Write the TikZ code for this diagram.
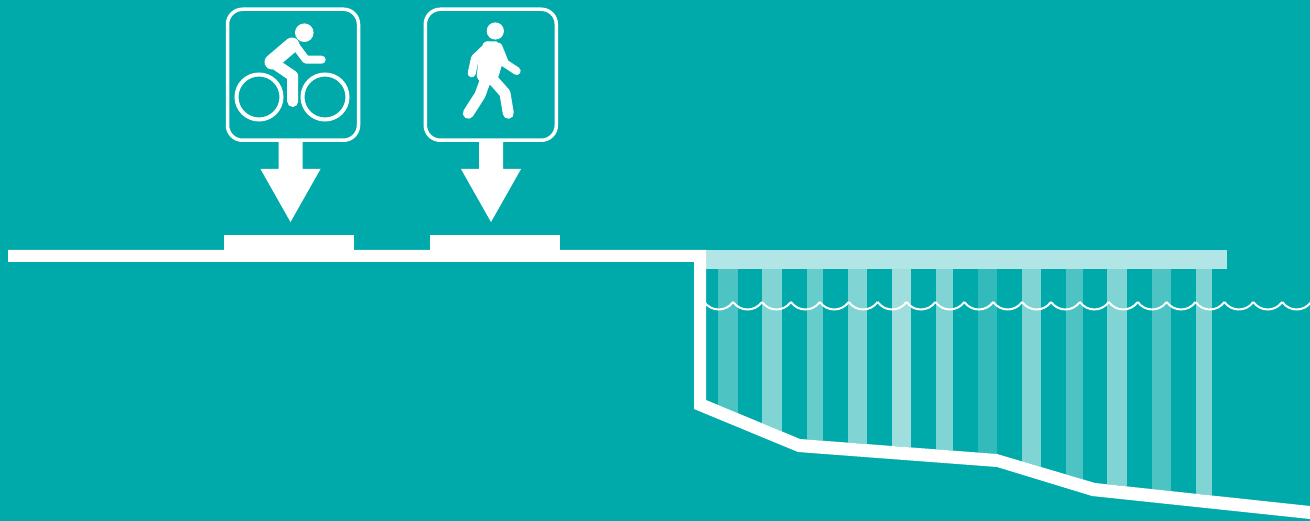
\documentclass[tikz,border=0pt]{standalone}
\usepackage{xcolor}
\definecolor{seagreen}{RGB}{0,170,170}
\definecolor{deckpale}{RGB}{178,229,229}
\definecolor{pilea}{RGB}{128,212,212}
\definecolor{pileb}{RGB}{77,195,195}
\definecolor{pilec}{RGB}{102,204,204}
\definecolor{piled}{RGB}{160,222,222}
\definecolor{pilee}{RGB}{51,187,187}
\tikzset{
  signbox/.style={draw=white, line width=3.5pt, rounded corners=15pt, minimum width=131pt, minimum height=131pt, inner sep=0pt, outer sep=0pt},
  wheel/.style={draw=white, line width=4pt},
  limb/.style={draw=white, line cap=round, line join=round},
  pointer/.pic={\fill[white] (-12,0) -- (-12,28) -- (-30,28) -- (0,81) -- (30,28) -- (12,28) -- (12,0) -- cycle;}
}
\begin{document}
\begin{tikzpicture}[x=1pt, y=-1pt]
  \useasboundingbox (0,0) rectangle (1310,521);
  \fill[seagreen] (0,0) rectangle (1310,521);
  \begin{scope}
    \clip (706,269) -- (706,400) -- (800,439) -- (997,454) -- (1095,483) -- (1310,506) -- (1310,269) -- cycle;
    \foreach \xa/\xb/\shade in {718/738/pileb, 762/782/pilea, 807/823/pilec, 848/867/pilea, 892/911/piled, 936/953/pilea, 978/997/pilee, 1022/1041/pilea, 1066/1083/pileb, 1107/1127/pilea, 1152/1171/pileb, 1196/1212/pilea}
      \fill[\shade] (\xa,269) rectangle (\xb,515);
  \end{scope}
  \foreach \c in {0,...,20}
    \draw[white, line width=2pt] ({704.2+28.9*\c},302) .. controls ({711.5+28.9*\c},312) and ({725.8+28.9*\c},312) .. ({733.1+28.9*\c},302);
  \fill[deckpale] (706,250) rectangle (1227,269.5);
  \fill[white] (8,250) -- (706,250) -- (706,400) -- (800,439) -- (997,454) -- (1095,483) -- (1310,506) -- (1310,519) -- (1092,496) -- (997,467) -- (798,452) -- (694,409) -- (694,262) -- (8,262) -- cycle;
  \fill[white] (224,235) rectangle (354,250);
  \fill[white] (430,235) rectangle (559.5,250);

  \node[signbox] (bikesign) at (293,74.75) {};
  \node[signbox] (walksign) at (490.8,74.75) {};
  \pic at (290.5,141) {pointer};
  \pic at (491,141) {pointer};

  \fill[white] (304.3,32.7) circle (9.3);
  \draw[wheel] (259,97) circle (22.5);
  \draw[wheel] (325,97) circle (22.5);
  \draw[limb, line width=15pt] (272,62) -- (292,45);
  \draw[limb, line width=11pt] (272,62) -- (292.7,76) -- (292.7,101.5);
  \draw[limb, line width=8pt] (295,45) -- (306,59.7) -- (321.7,59.7);

  \fill[white] (495.3,31) circle (8.6);
  \fill[white, rounded corners=2pt] (484,41.5) -- (498.5,41.5) -- (503,61.7) -- (498,78) -- (487,87) -- (476.5,78) -- (479,55) -- cycle;
  \draw[limb, line width=8pt] (488.3,45.5) -- (475,58.3) -- (471.7,73.3);
  \draw[limb, line width=8pt] (498.3,46.7) -- (505,63.3) -- (516.7,71);
  \draw[limb, line width=11pt] (486.7,76.7) -- (480,95) -- (468.3,113.3);
  \draw[limb, line width=11pt] (491.7,78.3) -- (505,93.3) -- (508.3,113.3);
\end{tikzpicture}
\end{document}
